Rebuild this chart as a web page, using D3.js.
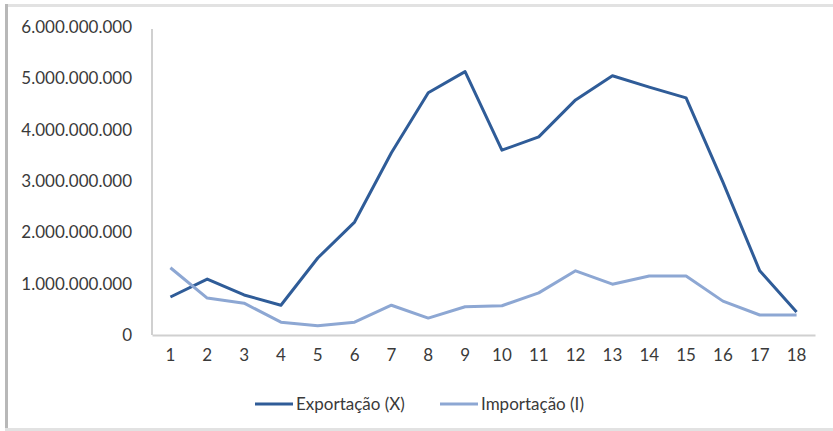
<!DOCTYPE html>
<html>
<head>
<meta charset="utf-8">
<script src="https://cdn.jsdelivr.net/npm/d3@7"></script>
<style>
  html, body { margin: 0; padding: 0; background: #fff; }
  svg { display: block; }
  text { font-family: Lato, "Open Sans", sans-serif; fill: #3a3a3a; }
</style>
</head>
<body>
<svg id="chart" width="833" height="431"></svg>
<script>
// Periods on the x axis
const categories = ["1","2","3","4","5","6","7","8","9","10","11","12","13","14","15","16","17","18"];

// Exports (X) and imports (I), per period
const exportacao = [0.74e9, 1.09e9, 0.78e9, 0.58e9, 1.50e9, 2.20e9, 3.55e9, 4.72e9, 5.13e9,
                    3.60e9, 3.86e9, 4.58e9, 5.05e9, 4.83e9, 4.62e9, 2.98e9, 1.25e9, 0.45e9];
const importacao = [1.31e9, 0.72e9, 0.62e9, 0.25e9, 0.18e9, 0.25e9, 0.58e9, 0.33e9, 0.55e9,
                    0.57e9, 0.82e9, 1.25e9, 0.99e9, 1.15e9, 1.15e9, 0.66e9, 0.39e9, 0.39e9];

const yTicks = [0, 1e9, 2e9, 3e9, 4e9, 5e9, 6e9];
const seriesNames = ["Exportação (X)", "Importação (I)"];
const colors = ["#2F5C98", "#8DA7D3"];

const svg = d3.select("#chart");

// Frame edges: top, left and bottom
svg.append("rect").attr("x", 5).attr("y", 4).attr("width", 828).attr("height", 3).attr("fill", "#e2e2e2");
svg.append("rect").attr("x", 5).attr("y", 4).attr("width", 3).attr("height", 427).attr("fill", "#b8b8b8");
svg.append("rect").attr("x", 5).attr("y", 428).attr("width", 828).attr("height", 3).attr("fill", "#e2e2e2");

const plot = { left: 152, right: 815, top: 27, bottom: 335 };

const x = d3.scaleBand().domain(categories).range([plot.left, plot.right]);
const y = d3.scaleLinear().domain([0, 6e9]).range([plot.bottom, plot.top]);

const fmt = v => d3.format(",")(v).replace(/,/g, ".");

// Y axis: labels only, plus a light vertical rule
const yAxis = svg.append("g")
  .attr("transform", `translate(${plot.left},0)`)
  .call(d3.axisLeft(y).tickValues(yTicks).tickFormat(fmt).tickSize(0).tickPadding(20));
yAxis.select(".domain").attr("stroke", "#d0d0d0").attr("stroke-width", 2)
  .attr("d", `M0,${y(6e9) + 2}V${plot.bottom}`);
yAxis.selectAll("text").style("font-size", "17px").attr("fill", "#3a3a3a")
  .style("font-family", "Lato, 'Open Sans', sans-serif");

// X axis
const xAxis = svg.append("g")
  .attr("transform", `translate(0,${plot.bottom})`)
  .call(d3.axisBottom(x).tickSize(0).tickPadding(14));
xAxis.select(".domain").attr("stroke", "#d0d0d0").attr("stroke-width", 2);
xAxis.selectAll("text").style("font-size", "17px").attr("fill", "#3a3a3a")
  .style("font-family", "Lato, 'Open Sans', sans-serif");

// Lines
const line = d3.line()
  .x((d, i) => x(categories[i]) + x.bandwidth() / 2)
  .y(d => y(d));

[exportacao, importacao].forEach((series, k) => {
  svg.append("path")
    .datum(series)
    .attr("fill", "none")
    .attr("stroke", colors[k])
    .attr("stroke-width", 3)
    .attr("stroke-linejoin", "round")
    .attr("d", line);
});

// Legend
const legendItems = [
  { x: 255, name: seriesNames[0], color: colors[0] },
  { x: 440, name: seriesNames[1], color: colors[1] }
];
const legend = svg.append("g").attr("transform", "translate(0,404)");
legendItems.forEach(item => {
  legend.append("line")
    .attr("x1", item.x).attr("x2", item.x + 38)
    .attr("y1", 0).attr("y2", 0)
    .attr("stroke", item.color).attr("stroke-width", 3);
  legend.append("text")
    .attr("x", item.x + 41).attr("y", 0).attr("dy", "0.35em")
    .style("font-size", "17px")
    .text(item.name);
});
</script>
</body>
</html>
